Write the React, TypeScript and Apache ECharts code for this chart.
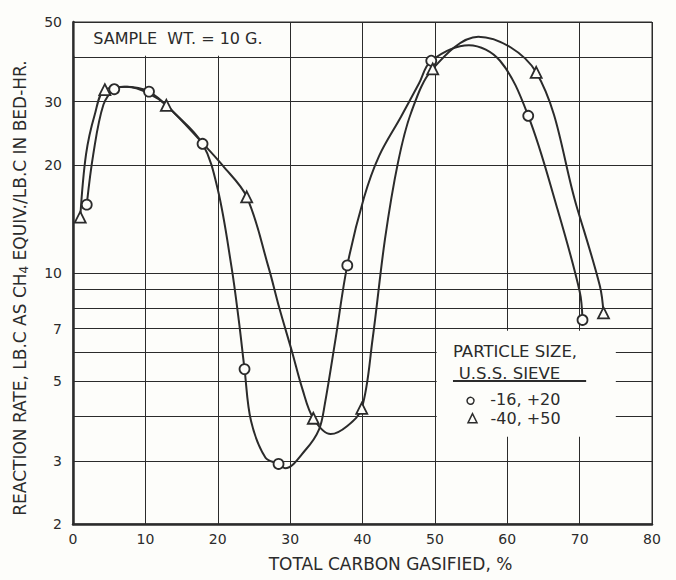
import React, { useEffect, useRef } from "react";
import * as echarts from "echarts";

// ---- axis values ----
const xMin = 0;
const xMax = 80;
const xInterval = 10;
const yMin = 2;
const yMax = 50;
const yGridValues = [2, 3, 4, 5, 6, 7, 8, 9, 10, 20, 30, 40, 50];
const yLabelValues = [2, 3, 5, 7, 10, 20, 30, 50];

// ---- texts ----
const xTitle = "TOTAL CARBON GASIFIED, %";
const yTitle = "REACTION RATE, LB.C AS CH{sub|4} EQUIV./LB.C IN BED-HR.";
const sampleNote = "SAMPLE  WT. = 10 G.";
const legendTitle1 = "PARTICLE SIZE,";
const legendTitle2 = "U.S.S. SIEVE";
const nameCoarse = "-16, +20";
const nameFine = "-40, +50";

// ---- measured points (x = % carbon gasified, y = reaction rate) ----
const coarsePoints: [number, number][] = [
  [1.9, 15.5], [5.7, 32.5], [10.5, 32.0], [17.9, 22.9], [23.7, 5.4],
  [28.4, 2.94], [37.9, 10.5], [49.5, 39.0], [62.9, 27.4], [70.4, 7.4],
];
const finePoints: [number, number][] = [
  [1.0, 14.3], [4.4, 32.4], [12.9, 29.3], [24.0, 16.3], [33.2, 3.94],
  [39.9, 4.2], [49.7, 37.0], [64.0, 36.2], [73.3, 7.74],
];

// ---- hand-drawn curve traces ----
const coarseCurve: [number, number][] = [
  [1.9, 15.5], [2.8, 21.4], [4.2, 29.4], [5.7, 32.5], [7.1, 33.0], [10.5, 32.0],
  [14.0, 27.9], [17.9, 22.9], [20.0, 17.1], [21.9, 10.4], [22.9, 7.4], [23.7, 5.4],
  [24.6, 3.87], [26.6, 3.06], [28.4, 2.94], [29.3, 2.86], [32.2, 3.23], [34.0, 3.67],
  [34.8, 4.32], [36.3, 6.6], [37.9, 10.5], [40.2, 16.2], [42.3, 21.2], [45.3, 27.2],
  [47.8, 33.7], [49.5, 39.0], [54.7, 43.1], [59.0, 39.0], [62.9, 27.4], [66.8, 15.4],
  [70.0, 8.9], [70.4, 7.4],
];
const fineCurve: [number, number][] = [
  [1.0, 14.3], [1.8, 21.4], [3.0, 27.6], [4.4, 32.4], [7.5, 33.0], [10.5, 31.6],
  [12.9, 29.3], [17.9, 23.0], [20.7, 19.9], [24.0, 16.3], [27.0, 10.4], [28.5, 8.0],
  [30.3, 6.0], [31.7, 4.75], [33.2, 3.94], [35.6, 3.56], [37.9, 3.75], [39.9, 4.2],
  [41.4, 6.56], [43.1, 12.4], [44.9, 20.3], [46.7, 27.9], [49.7, 37.0], [56.0, 45.5],
  [64.0, 36.2], [69.6, 15.3], [72.8, 9.2], [73.3, 7.74],
];

export default function App() {
  const ref = useRef<HTMLDivElement>(null);

  useEffect(() => {
    document.body.style.margin = "0";
    const chart = echarts.init(ref.current!, null, { renderer: "svg" });
    const ink = "#2b2b2b";
    const font = "DejaVu Sans";
    const bg = "#fdfdfa";

    chart.setOption({
      animation: false,
      backgroundColor: bg,
      grid: {
        left: 73, right: 24, top: 22, bottom: 56,
        show: true, borderColor: ink, borderWidth: 1, backgroundColor: "transparent",
      },
      xAxis: {
        type: "value", min: xMin, max: xMax, interval: xInterval,
        axisLine: { show: true, lineStyle: { color: ink, width: 2.5 } },
        axisTick: { show: false },
        axisLabel: { color: ink, fontSize: 14, fontFamily: font, margin: 8 },
        splitLine: { show: true, lineStyle: { color: ink, width: 1 } },
        name: xTitle,
        nameLocation: "middle",
        nameGap: 31,
        nameTextStyle: { color: ink, fontSize: 17, fontFamily: font, padding: [0, 0, 0, 56] },
      },
      yAxis: {
        type: "log", logBase: 10, min: yMin, max: yMax,
        axisLine: { show: true, lineStyle: { color: ink, width: 2.5 } },
        axisTick: { show: false, customValues: yGridValues },
        axisLabel: { customValues: yLabelValues, color: ink, fontSize: 14, fontFamily: font, margin: 11 },
        splitLine: { show: true, lineStyle: { color: ink, width: 1 } },
        minorTick: { show: false },
        minorSplitLine: { show: false },
        name: yTitle,
        nameLocation: "middle",
        nameGap: 43,
        nameRotate: 90,
        nameTextStyle: {
          color: ink, fontSize: 17, fontFamily: font, padding: [0, 30, 0, 0],
          rich: { sub: { fontSize: 12, fontFamily: font, color: ink, padding: [8, 0, 0, 0] } },
        },
      },
      series: [
        {
          name: "curve " + nameCoarse, type: "line", data: coarseCurve, smooth: 0.35,
          showSymbol: false, symbol: "none", z: 2,
          lineStyle: { color: ink, width: 2 },
        },
        {
          name: "curve " + nameFine, type: "line", data: fineCurve, smooth: 0.35,
          showSymbol: false, symbol: "none", z: 2,
          lineStyle: { color: ink, width: 2 },
        },
        {
          name: nameCoarse, type: "scatter", data: coarsePoints, symbol: "circle", symbolSize: 10, z: 4,
          itemStyle: { color: bg, borderColor: ink, borderWidth: 1.8, opacity: 1 },
        },
        {
          name: nameFine, type: "scatter", data: finePoints, symbol: "triangle", symbolSize: 11, z: 4,
          itemStyle: { color: bg, borderColor: ink, borderWidth: 1.8, opacity: 1 },
        },
      ],
    });

    const px = (x: number, y: number) => chart.convertToPixel({ gridIndex: 0 }, [x, y]) as number[];
    const sA = px(0.25, 49.7);
    const sB = px(29.8, 40.3);
    const lA = px(50.25, 6.9);
    const lB = px(75, 3.5);
    const sT = px(2.8, 45);
    const t1 = px(52.5, 6.05);
    const t2 = px(53.3, 5.25);
    const uA = px(52.5, 5.0);
    const uB = px(70.9, 5.0);
    const m1 = px(54.9, 4.44);
    const m2 = px(55.2, 3.93);

    chart.setOption({
      graphic: [
        { type: "rect", z: 1, silent: true, shape: { x: sA[0], y: sA[1], width: sB[0] - sA[0], height: sB[1] - sA[1] }, style: { fill: bg } },
        { type: "rect", z: 1, silent: true, shape: { x: lA[0], y: lA[1], width: lB[0] - lA[0], height: lB[1] - lA[1] }, style: { fill: bg } },
        { type: "text", z: 5, x: sT[0], y: sT[1], style: { text: sampleNote, fill: ink, font: `16px "${font}"`, align: "left", verticalAlign: "middle" } },
        { type: "text", z: 5, x: t1[0], y: t1[1], style: { text: legendTitle1, fill: ink, font: `16.5px "${font}"`, align: "left", verticalAlign: "middle" } },
        { type: "text", z: 5, x: t2[0], y: t2[1], style: { text: legendTitle2, fill: ink, font: `16.5px "${font}"`, align: "left", verticalAlign: "middle" } },
        { type: "line", z: 5, shape: { x1: uA[0], y1: uA[1], x2: uB[0], y2: uB[1] }, style: { stroke: ink, lineWidth: 2 } },
        { type: "circle", z: 5, shape: { cx: m1[0], cy: m1[1], r: 3.5 }, style: { fill: bg, stroke: ink, lineWidth: 1.5 } },
        { type: "text", z: 5, x: m1[0] + 20, y: m1[1], style: { text: nameCoarse, fill: ink, font: `16px "${font}"`, align: "left", verticalAlign: "middle" } },
        { type: "polygon", z: 5, shape: { points: [[m2[0], m2[1] - 5], [m2[0] - 4.5, m2[1] + 4], [m2[0] + 4.5, m2[1] + 4]] }, style: { fill: bg, stroke: ink, lineWidth: 1.5 } },
        { type: "text", z: 5, x: m2[0] + 18, y: m2[1], style: { text: nameFine, fill: ink, font: `16px "${font}"`, align: "left", verticalAlign: "middle" } },
      ],
    });

    return () => chart.dispose();
  }, []);

  return <div ref={ref} style={{ width: 676, height: 580 }} />;
}
